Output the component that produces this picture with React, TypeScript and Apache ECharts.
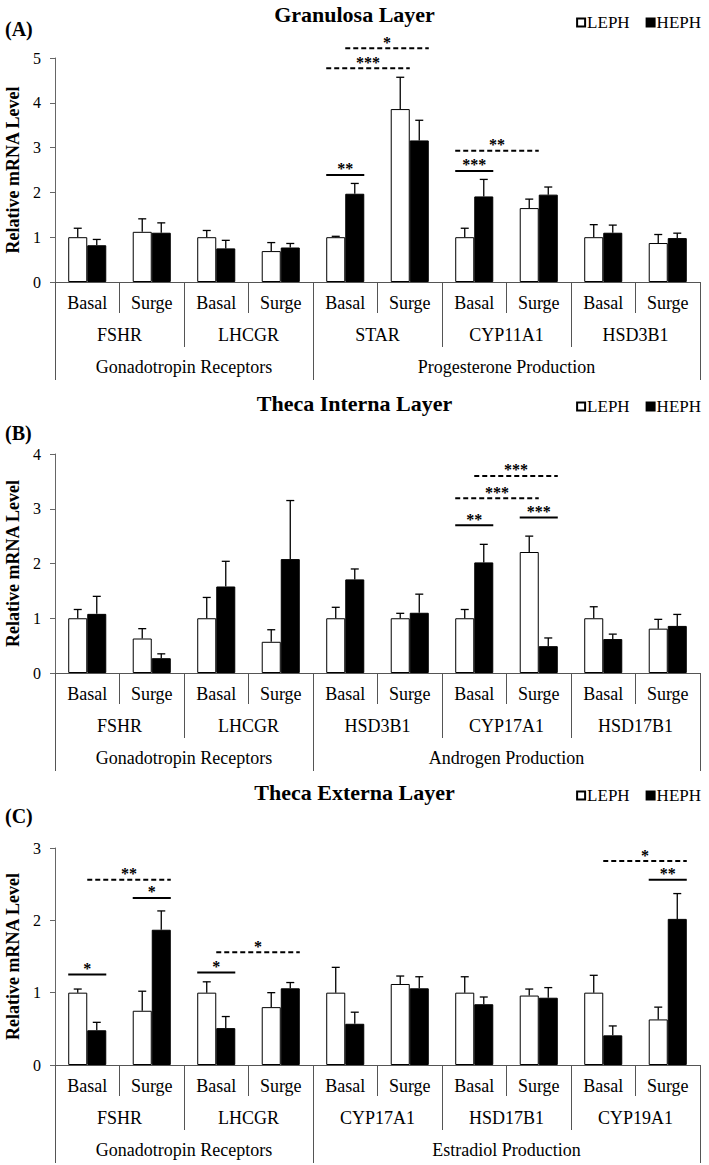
import React, { useEffect, useRef } from "react";
import * as echarts from "echarts";

const FONT = '"Liberation Serif", "Times New Roman", serif';
const GAP = 0.41;
const AXIS_COLOR = "#555";

const conditions = ["Basal", "Surge"];

// Panel A — Granulosa Layer
const genesA = ["FSHR", "LHCGR", "STAR", "CYP11A1", "HSD3B1"];
const groupsA = ["Gonadotropin Receptors", "Progesterone Production"];
const groupSizesA = [2, 3];
const lephA = [1.0, 1.12, 1.0, 0.69, 1.0, 3.86, 1.0, 1.65, 1.0, 0.87];
const lephErrA = [0.2, 0.29, 0.15, 0.19, 0.02, 0.71, 0.2, 0.2, 0.28, 0.19];
const hephA = [0.82, 1.1, 0.75, 0.77, 1.97, 3.16, 1.91, 1.95, 1.1, 0.98];
const hephErrA = [0.13, 0.22, 0.18, 0.09, 0.23, 0.45, 0.38, 0.17, 0.17, 0.11];
// [fromSlot, fromBar, toSlot, toBar, y, label, dashed]
const sigA: [number, number, number, number, number, string, number][] = [
  [4, 0, 4, 1, 2.39, "**", 0],
  [4, 0, 5, 0, 4.77, "***", 1],
  [4, 1, 5, 1, 5.22, "*", 1],
  [6, 0, 6, 1, 2.48, "***", 0],
  [6, 0, 7, 0, 2.93, "**", 1],
];

// Panel B — Theca Interna Layer
const genesB = ["FSHR", "LHCGR", "HSD3B1", "CYP17A1", "HSD17B1"];
const groupsB = ["Gonadotropin Receptors", "Androgen Production"];
const groupSizesB = [2, 3];
const lephB = [1.0, 0.63, 1.0, 0.57, 1.0, 1.0, 1.0, 2.21, 1.0, 0.81];
const lephErrB = [0.16, 0.18, 0.38, 0.22, 0.2, 0.09, 0.16, 0.29, 0.21, 0.17];
const hephB = [1.08, 0.27, 1.58, 2.08, 1.71, 1.1, 2.02, 0.49, 0.62, 0.86];
const hephErrB = [0.32, 0.08, 0.46, 1.07, 0.19, 0.34, 0.33, 0.15, 0.09, 0.21];
const sigB: [number, number, number, number, number, string, number][] = [
  [6, 0, 6, 1, 2.7, "**", 0],
  [6, 0, 7, 0, 3.19, "***", 1],
  [7, 0, 7, 1, 2.84, "***", 0],
  [6, 1, 7, 1, 3.6, "***", 1],
];

// Panel C — Theca Externa Layer
const genesC = ["FSHR", "LHCGR", "CYP17A1", "HSD17B1", "CYP19A1"];
const groupsC = ["Gonadotropin Receptors", "Estradiol Production"];
const groupSizesC = [2, 3];
const lephC = [1.0, 0.75, 1.0, 0.8, 1.0, 1.12, 1.0, 0.96, 1.0, 0.63];
const lephErrC = [0.05, 0.27, 0.15, 0.2, 0.35, 0.11, 0.22, 0.09, 0.24, 0.17];
const hephC = [0.48, 1.87, 0.51, 1.06, 0.57, 1.06, 0.84, 0.93, 0.41, 2.02];
const hephErrC = [0.11, 0.26, 0.16, 0.08, 0.16, 0.16, 0.1, 0.14, 0.13, 0.35];
const sigC: [number, number, number, number, number, string, number][] = [
  [0, 0, 0, 1, 1.25, "*", 0],
  [0, 1, 1, 1, 2.56, "**", 1],
  [1, 0, 1, 1, 2.31, "*", 0],
  [2, 0, 2, 1, 1.28, "*", 0],
  [2, 1, 3, 1, 1.56, "*", 1],
  [8, 1, 9, 1, 2.82, "*", 1],
  [9, 0, 9, 1, 2.56, "**", 0],
];

const panels = [
  {
    title: "Granulosa Layer", tag: "(A)", genes: genesA, groups: groupsA, groupSizes: groupSizesA,
    leph: lephA, lephErr: lephErrA, heph: hephA, hephErr: hephErrA, sig: sigA, yMax: 5,
    gridTop: 58, gridHeight: 224, titleTop: 3, tagTop: 19, legendTop: 14,
  },
  {
    title: "Theca Interna Layer", tag: "(B)", genes: genesB, groups: groupsB, groupSizes: groupSizesB,
    leph: lephB, lephErr: lephErrB, heph: hephB, hephErr: hephErrB, sig: sigB, yMax: 4,
    gridTop: 454, gridHeight: 219, titleTop: 392, tagTop: 423, legendTop: 398,
  },
  {
    title: "Theca Externa Layer", tag: "(C)", genes: genesC, groups: groupsC, groupSizes: groupSizesC,
    leph: lephC, lephErr: lephErrC, heph: hephC, hephErr: hephErrC, sig: sigC, yMax: 3,
    gridTop: 848, gridHeight: 217, titleTop: 781, tagTop: 806, legendTop: 787,
  },
];

function buildOption() {
  const grid: any[] = [];
  const xAxis: any[] = [];
  const yAxis: any[] = [];
  const series: any[] = [];
  const title: any[] = [];
  const legend: any[] = [];

  panels.forEach((p, i) => {
    const slots: string[] = [];
    p.genes.forEach(() => conditions.forEach((c) => slots.push(c)));
    const nSlots = slots.length;
    const slotsPerGene = conditions.length;
    const bounds: number[] = [0];
    const centers: number[] = [];
    let acc = 0;
    p.groupSizes.forEach((s) => {
      const start = acc;
      acc += s * slotsPerGene;
      bounds.push(acc);
      centers.push((start + acc) / 2);
    });

    grid.push({ left: 55, width: 645, top: p.gridTop, height: p.gridHeight, outerBoundsMode: "none", containLabel: false });

    const labelStyle = { fontFamily: FONT, fontSize: 18, color: "#000" };
    xAxis.push({
      type: "category", gridIndex: i, data: slots, position: "bottom",
      axisLine: { show: true, lineStyle: { color: AXIS_COLOR, width: 1 } },
      axisTick: { show: true, interval: 0, length: 31, lineStyle: { color: AXIS_COLOR } },
      axisLabel: { ...labelStyle, interval: 0, margin: 12 },
      splitLine: { show: false },
    });
    xAxis.push({
      type: "category", gridIndex: i, data: p.genes, position: "bottom",
      axisLine: { show: false },
      axisTick: { show: true, interval: 0, length: 65, lineStyle: { color: AXIS_COLOR } },
      axisLabel: { ...labelStyle, interval: 0, margin: 44 },
      splitLine: { show: false },
    });
    xAxis.push({
      type: "value", gridIndex: i, min: 0, max: nSlots, position: "bottom",
      axisLine: { show: false },
      axisTick: { show: true, customValues: bounds, length: 98, lineStyle: { color: AXIS_COLOR } },
      axisLabel: {
        ...labelStyle, margin: 76, customValues: centers,
        formatter: (v: number) => {
          const k = centers.findIndex((c) => Math.abs(c - v) < 1e-6);
          return k >= 0 ? p.groups[k] : "";
        },
      },
      splitLine: { show: false },
    });
    yAxis.push({
      type: "value", gridIndex: i, min: 0, max: p.yMax, interval: 1,
      name: "Relative mRNA Level", nameLocation: "middle", nameGap: 32, nameRotate: 90,
      nameTextStyle: { fontFamily: FONT, fontSize: 18, fontWeight: "bold", color: "#000" },
      axisLine: { show: true, lineStyle: { color: "#666", width: 1 } },
      axisTick: { show: true, length: 5, lineStyle: { color: "#666" } },
      axisLabel: { fontFamily: FONT, fontSize: 16, color: "#000", margin: 14 },
      splitLine: { show: false },
    });

    const xi = i * 3;
    series.push({
      name: "LEPH", type: "bar", xAxisIndex: xi, yAxisIndex: i, data: p.leph,
      barGap: "0%", barCategoryGap: GAP * 100 + "%",
      itemStyle: { color: "#ffffff", borderColor: "#000", borderWidth: 1 },
      emphasis: { disabled: true },
    });
    series.push({
      name: "HEPH", type: "bar", xAxisIndex: xi, yAxisIndex: i, data: p.heph,
      barGap: "0%", barCategoryGap: GAP * 100 + "%",
      itemStyle: { color: "#000", borderColor: "#000", borderWidth: 1 },
      emphasis: { disabled: true },
    });

    const errData: number[][] = [];
    p.leph.forEach((v, k) => errData.push([k, 0, v, p.lephErr[k]]));
    p.heph.forEach((v, k) => errData.push([k, 1, v, p.hephErr[k]]));
    series.push({
      type: "custom", xAxisIndex: xi, yAxisIndex: i, data: errData, z: 5, silent: true,
      encode: { x: 0, y: 2 },
      renderItem: (params: any, api: any) => {
        const slot = api.value(0);
        const bar = api.value(1);
        const mean = api.value(2);
        const err = api.value(3);
        const band = api.size([1, 0])[0];
        const bw = (band * (1 - GAP)) / 2;
        const c = api.coord([slot, mean]);
        const t = api.coord([slot, mean + err]);
        const x = c[0] + (bar === 0 ? -bw / 2 : bw / 2);
        const st = { stroke: "#000", lineWidth: 1.3 };
        return {
          type: "group",
          children: [
            { type: "line", shape: { x1: x, y1: c[1], x2: x, y2: t[1] }, style: st },
            { type: "line", shape: { x1: x - 4, y1: t[1], x2: x + 4, y2: t[1] }, style: st },
          ],
        };
      },
    });

    const sig = p.sig;
    series.push({
      type: "custom", xAxisIndex: xi, yAxisIndex: i, z: 6, silent: true, clip: false,
      data: sig.map((s) => [s[0], s[1], s[2], s[3], s[4], s[6]]),
      encode: { x: 0, y: 4 },
      renderItem: (params: any, api: any) => {
        const s = sig[params.dataIndex];
        const band = api.size([1, 0])[0];
        const bw = (band * (1 - GAP)) / 2;
        const p0 = api.coord([s[0], s[4]]);
        const p1 = api.coord([s[2], s[4]]);
        const x0 = p0[0] - bw + s[1] * bw;
        const x1 = p1[0] + s[3] * bw;
        const dashed = s[6] === 1;
        return {
          type: "group",
          children: [
            {
              type: "line",
              shape: { x1: x0, y1: p0[1], x2: x1, y2: p0[1] },
              style: { stroke: "#000", lineWidth: 2, lineDash: dashed ? [5, 3] : null },
            },
            {
              type: "text",
              x: (x0 + x1) / 2,
              y: p0[1] - 6,
              style: {
                text: s[5], font: "bold 16px " + FONT, fill: "#000",
                align: "center", verticalAlign: "middle",
                textAlign: "center", textVerticalAlign: "middle",
              },
            },
          ],
        };
      },
    });

    title.push({
      text: p.title, left: "center", top: p.titleTop, padding: 0,
      textStyle: { fontFamily: FONT, fontSize: 22, fontWeight: "bold", color: "#000" },
    });
    title.push({
      text: p.tag, left: 5, top: p.tagTop, padding: 0,
      textStyle: { fontFamily: FONT, fontSize: 20, fontWeight: "bold", color: "#000" },
    });
    legend.push({
      data: ["LEPH", "HEPH"], right: 8, top: p.legendTop, padding: 0,
      itemWidth: 8, itemHeight: 8, itemGap: 16, icon: "rect", selectedMode: false,
      textStyle: { fontFamily: FONT, fontSize: 17, color: "#000", padding: [0, 0, 0, -3] },
    });
  });

  return {
    animation: false,
    backgroundColor: "#fff",
    textStyle: { fontFamily: FONT },
    title, legend, grid, xAxis, yAxis, series,
  };
}

export default function App() {
  const ref = useRef<HTMLDivElement>(null);
  useEffect(() => {
    document.body.style.margin = "0";
    if (!ref.current) return;
    const chart = echarts.init(ref.current, null, { renderer: "svg" });
    chart.setOption(buildOption() as any);
    return () => chart.dispose();
  }, []);
  return (
    <div
      ref={ref}
      style={{ position: "absolute", left: 0, top: 0, width: 709, height: 1165, background: "#fff" }}
    />
  );
}
